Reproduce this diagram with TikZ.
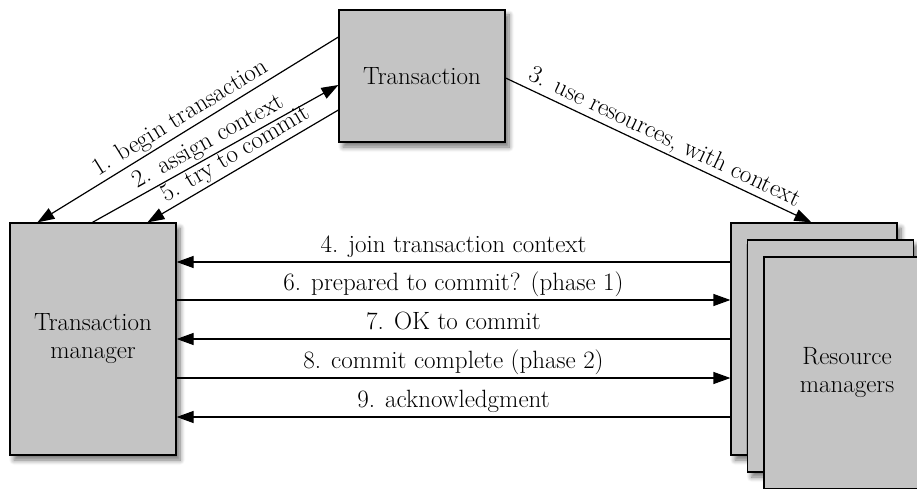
\documentclass[tikz,border=0pt]{standalone}
\usepackage{fontspec}
\usetikzlibrary{arrows.meta,shadows.blur}
\definecolor{boxgray}{RGB}{196,196,196}
\tikzset{
  box/.style={draw, line width=1.2pt, fill=boxgray, align=center,
    minimum width=166pt, blur shadow={shadow xshift=4pt, shadow yshift=-5pt,
    shadow blur radius=5pt, shadow blur steps=8, shadow opacity=55}},
  msg/.style={line width=1.2pt, -{Triangle[length=17pt,width=12pt]}},
  lbl/.style={midway, above, inner sep=4pt, text depth=5pt}
}
\begin{document}
\begin{tikzpicture}[x=1pt, y=-1pt, font=\fontsize{25}{28}\selectfont]
	\useasboundingbox (0,0) rectangle (917,489);
	% boxes
	\node[box, minimum height=132pt] (trans) at (422,76) {Transaction};
	\node[box, minimum height=232pt] (tm) at (93,339) {Transaction\\manager};
	\node[box, minimum height=232pt] (rm1) at (814,339) {};
	\node[box, minimum height=232pt] (rm2) at (830.5,356) {};
	\node[box, minimum height=232pt] (rm3) at (847,373) {Resource\\managers};
	% diagonal messages
	\draw[msg] ([yshift=39pt]trans.west) -- ([xshift=28pt]tm.north west)
		node[lbl, sloped, inner sep=2pt] {1. begin transaction};
	\draw[msg] ([xshift=83pt]tm.north west) -- ([yshift=-9pt]trans.west)
		node[lbl, sloped, inner sep=2pt] {2. assign context};
	\draw[msg] ([yshift=-34pt]trans.west) -- ([xshift=138pt]tm.north west)
		node[lbl, sloped, inner sep=2pt] {5. try to commit};
	\draw[msg] ([yshift=-2pt]trans.east) -- ([xshift=81pt]rm1.north west)
		node[lbl, sloped, inner sep=2pt] {3. use resources, with context};
	% two-phase commit
	\draw[msg] ([yshift=77pt]rm1.west) -- ([yshift=77pt]tm.east)
		node[lbl] {4. join transaction context};
	\draw[msg] ([yshift=39pt]tm.east) -- ([yshift=39pt]rm1.west)
		node[lbl] {6. prepared to commit? (phase 1)};
	\draw[msg] (rm1.west) -- (tm.east)
		node[lbl] {7. OK to commit};
	\draw[msg] ([yshift=-39pt]tm.east) -- ([yshift=-39pt]rm1.west)
		node[lbl] {8. commit complete (phase 2)};
	\draw[msg] ([yshift=-78pt]rm1.west) -- ([yshift=-78pt]tm.east)
		node[lbl] {9. acknowledgment};
\end{tikzpicture}
\end{document}
